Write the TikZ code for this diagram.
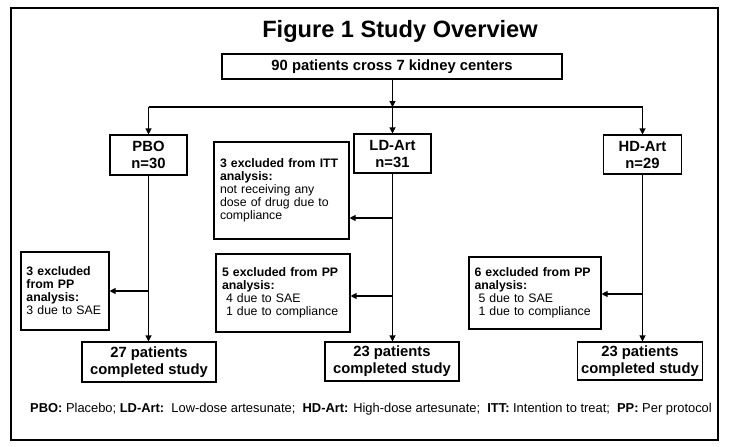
\documentclass[tikz,border=0pt]{standalone}
\usepackage{fontspec}
\setmainfont{Liberation Sans}
\usetikzlibrary{arrows.meta}
\begin{document}
\begin{tikzpicture}[x=1pt,y=-1pt,
  box/.style={draw,line width=1.1pt,inner sep=0pt,align=center,
    font=\bfseries\fontsize{14.8}{17}\selectfont},
  exbox/.style={draw,line width=1.1pt,inner sep=0pt,align=left,
    font=\fontsize{12.3}{13}\selectfont},
  conn/.style={line width=1.1pt},
  arr/.style={line width=1.1pt,-{Triangle[length=6pt,width=6pt]}}]
\useasboundingbox (0,0) rectangle (731,447);
\draw[line width=1.4pt] (11,8) rectangle (718,440);
\node[font=\bfseries\fontsize{23.6}{27}\selectfont] (title) at (400,31) {Figure 1 Study Overview};
\node[box,minimum width=340pt,minimum height=25pt] (top) at (392,66.5) {90 patients cross 7 kidney centers};
\node[box,minimum width=77pt,minimum height=40pt] (pbo) at (148.5,155) {PBO\\n=30};
\node[box,minimum width=77pt,minimum height=39pt] (ld) at (392.5,153.5) {LD-Art\\n=31};
\node[box,minimum width=78pt,minimum height=39pt] (hd) at (642.5,154.5) {HD-Art\\n=29};
\node[exbox,minimum width=135pt,minimum height=97pt,text width=123pt] (itt) at (281.5,190.5)
  {\textbf{3 excluded from ITT}\\\textbf{analysis:}\\not receiving any\\dose of drug\ due to\\compliance};
\node[exbox,minimum width=88pt,minimum height=78pt,text width=77pt] (ppbo) at (65,291)
  {\textbf{3 excluded}\\\textbf{from PP}\\\textbf{analysis:}\\3 due to SAE};
\node[exbox,minimum width=134pt,minimum height=78pt,text width=122pt] (pld) at (283,293)
  {\textbf{5 excluded from PP}\\\textbf{analysis:}\\\hspace*{4pt}4 due to SAE\\\hspace*{4pt}1 due to compliance};
\node[exbox,minimum width=132pt,minimum height=72pt,text width=121pt] (phd) at (535,293)
  {\textbf{6 excluded from PP}\\\textbf{analysis:}\\\hspace*{4pt}5 due to SAE\\\hspace*{4pt}1 due to compliance};
\node[box,minimum width=134pt,minimum height=40pt] (c1) at (149,362) {27 patients\\completed\ study};
\node[box,minimum width=134pt,minimum height=39pt] (c2) at (392,361.5) {23 patients\\completed\ study};
\node[box,minimum width=125pt,minimum height=38pt] (c3) at (640,361) {23 patients\\completed\ study};
\node[anchor=west,inner sep=0pt,font=\fontsize{12.9}{14}\selectfont] (legend) at (30,409)
  {\textbf{PBO:} Placebo; \textbf{LD-Art:}\ \ Low-dose artesunate;\ \ \textbf{HD-Art:} High-dose artesunate;\ \ \textbf{ITT:} Intention\ to treat;\ \ \textbf{PP:} Per protocol};
\coordinate (bc) at (392.5,107);
\coordinate (bl) at (148.5,107);
\coordinate (br) at (642.5,107);
\draw[arr] (top.south -| bc) -- (bc);
\draw[conn] (bl) -- (br);
\draw[arr] (bl) -- (pbo.north);
\draw[arr] (bc) -- (ld.north);
\draw[arr] (br) -- (hd.north);
\draw[arr] (pbo.south) -- (pbo.south |- c1.north);
\draw[arr] (ld.south) -- (ld.south |- c2.north);
\draw[arr] (hd.south) -- (hd.south |- c3.north);
\draw[arr] (pbo.south |- ppbo.east) -- (ppbo.east);
\draw[arr] (ld.south |- 0,218) -- (itt.east |- 0,218);
\draw[arr] (ld.south |- 0,296) -- (pld.east |- 0,296);
\draw[arr] (hd.south |- 0,294) -- (phd.east |- 0,294);
\end{tikzpicture}
\end{document}
